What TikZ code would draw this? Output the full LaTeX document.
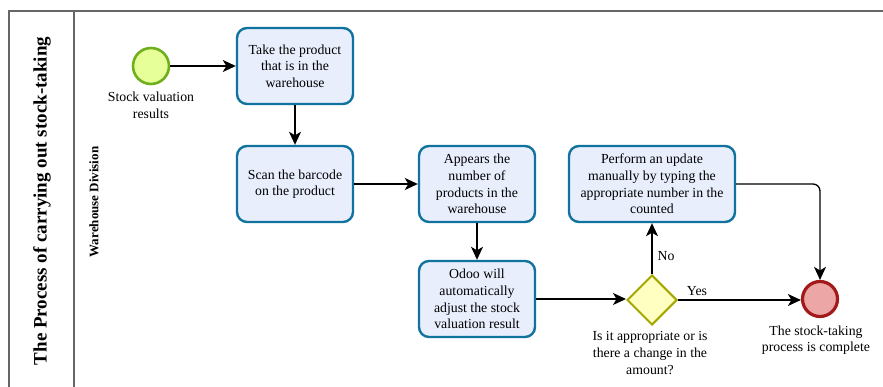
\documentclass[tikz,border=0pt]{standalone}
\usepackage{fontspec}
\setmainfont{Liberation Serif}
\usetikzlibrary{arrows.meta,shapes.geometric}

\definecolor{taskfill}{HTML}{E8EEFC}
\definecolor{taskline}{HTML}{10739E}
\definecolor{startfill}{HTML}{E6FF99}
\definecolor{startline}{HTML}{6FAF1E}
\definecolor{endfill}{HTML}{EDA6A6}
\definecolor{endline}{HTML}{A31A1A}
\definecolor{gwfill}{HTML}{FFFFC2}
\definecolor{gwline}{HTML}{A6A600}
\definecolor{poolline}{HTML}{666666}

\tikzset{
  body/.style={font=\fontsize{13.8}{16.6}\selectfont},
  task/.style={body, draw=taskline, fill=taskfill, line width=2.4pt,
    rounded corners=10pt, minimum width=116pt, minimum height=76pt,
    inner sep=0pt, align=center},
  startev/.style={circle, draw=startline, fill=startfill, line width=2.6pt,
    minimum size=36pt, inner sep=0pt},
  endev/.style={circle, draw=endline, fill=endfill, line width=3.2pt,
    minimum size=35pt, inner sep=0pt},
  gateway/.style={diamond, draw=gwline, fill=gwfill, line width=2pt,
    minimum width=50pt, minimum height=50pt, inner sep=0pt},
  caption/.style={body, align=center, inner sep=0pt},
  flow/.style={line width=1.3pt, -{Stealth[length=13pt,width=12pt,inset=3.5pt]}},
  pool/.style={draw=poolline, line width=1.6pt},
}

\begin{document}
\begin{tikzpicture}[x=1pt,y=-1pt]
\useasboundingbox (0,0) rectangle (883,387);

% pool and lane frame
\draw[pool] (9,387) -- (9,11) -- (883,11);
\draw[pool] (74,11) -- (74,387);
\node[rotate=90, font=\fontsize{19}{22}\selectfont\bfseries] (pooltitle) at (42,201)
  {The Process of carrying out stock-taking};
\node[rotate=90, font=\fontsize{13}{15}\selectfont\bfseries] (lanetitle) at (94,202)
  {Warehouse Division};

% events, tasks and gateway
\node[startev] (start) at (151,66) {};
\node[caption] (startlbl) at (151,105) {Stock valuation\\results};

\node[task] (t1) at (295,66) {Take the product\\that is in the\\warehouse};
\node[task] (t2) at (295,184) {Scan the barcode\\on the product};
\node[task] (t3) at (477,184) {Appears the\\number of\\products in the\\warehouse};
\node[task] (t4) at (477,299) {Odoo will\\automatically\\adjust the stock\\valuation result};
\node[task, minimum width=166pt] (t5) at (652,184)
  {Perform an update\\manually by typing the\\appropriate number in the\\counted};

\node[gateway] (gw) at (652,300) {};
\node[caption] (gwlbl) at (650,353) {Is it appropriate or is\\there a change in the\\amount?};

\node[endev] (end) at (820,299) {};
\node[caption] (endlbl) at (816,340) {The stock-taking\\process is complete};

% sequence flows
\draw[flow] (start) -- (t1);
\draw[flow] (t1) -- (t2);
\draw[flow] (t2) -- (t3);
\draw[flow] (t3) -- (t4);
\draw[flow] (t4.east) -- (t4.east -| gw.west);
\draw[flow] (gw.east) -- (gw.east -| end.west);
\draw[flow] (gw.north) -- (t5.south);
\draw[flow, rounded corners=7pt] (t5.east) -| (end.north);

\node[body, inner sep=0pt] (nolbl) at (666,256) {No};
\node[body, inner sep=0pt] (yeslbl) at (697,291) {Yes};
\end{tikzpicture}
\end{document}
